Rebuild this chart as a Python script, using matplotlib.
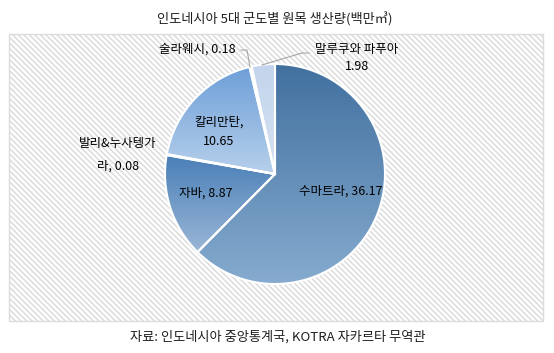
import matplotlib
matplotlib.use('Agg')
import numpy as np
import matplotlib.pyplot as plt
from matplotlib.colors import LinearSegmentedColormap
from matplotlib.patches import Rectangle

plt.rcParams['font.family'] = ['Noto Sans CJK KR', 'DejaVu Sans']
plt.rcParams['hatch.linewidth'] = 1.1

# 데이터
regions = ['수마트라', '자바', '발리&누사텡가라', '칼리만탄', '술라웨시', '말루쿠와 파푸아']
values = [36.17, 8.87, 0.08, 10.65, 0.18, 1.98]
top_colors = ['#41709f', '#4a7fb8', '#5f90c8', '#6e9fd8', '#d3e0f0', '#c3d5ec']
bottom_colors = ['#86abcf', '#9ab7d6', '#a5c2e4', '#b7d0eb', '#e3ecf6', '#d6e2f1']

W, H = 554, 353


def py(y):
    # 위에서부터 잰 픽셀 -> 데이터 좌표
    return H - y


fig = plt.figure(figsize=(W / 100, H / 100), dpi=100)
ax = fig.add_axes([0, 0, 1, 1])

bg = Rectangle((8.5, py(320.5)), 534, 287, facecolor='white',
               edgecolor='#dcdcdc', hatch='\\' * 6, lw=1, zorder=0)
ax.add_patch(bg)

wedges, _ = ax.pie(values, startangle=90, counterclock=False,
                   center=(275, py(174)), radius=110,
                   wedgeprops=dict(edgecolor='white', linewidth=1.5))

grad = np.linspace(0, 1, 256).reshape(-1, 1)
for w, ct, cb in zip(wedges, top_colors, bottom_colors):
    v = w.get_path().vertices
    cmap = LinearSegmentedColormap.from_list('g', [cb, ct])
    im = ax.imshow(grad, extent=(v[:, 0].min(), v[:, 0].max(), v[:, 1].min(), v[:, 1].max()),
                   origin='lower', cmap=cmap, aspect='auto', zorder=1)
    im.set_clip_path(w)
    w.set_facecolor('none')
    w.set_zorder(2)

fs = 9
ax.text(341, py(191), f'{regions[0]}, {values[0]}', fontsize=fs, ha='center', va='center', zorder=3)
ax.text(206, py(193), f'{regions[1]}, {values[1]}', fontsize=fs, ha='center', va='center', zorder=3)
ax.text(118, py(155), f'발리&누사텡가\n라, {values[2]}', fontsize=fs, ha='center', va='center',
        linespacing=1.9, zorder=3)
ax.text(219, py(132), f'{regions[3]},\n{values[3]}', fontsize=fs, ha='center', va='center',
        linespacing=1.6, zorder=3)
ax.text(197, py(49), f'{regions[4]}, {values[4]}', fontsize=fs, ha='center', va='center', zorder=3)
ax.text(357, py(58), f'{regions[5]}\n{values[5]}', fontsize=fs, ha='center', va='center',
        linespacing=1.5, zorder=3)

# 지시선
ax.plot([241, 247, 250], [py(50), py(50), py(67)], color='#a6a6a6', lw=0.8, zorder=3)
ax.plot([309, 302, 262], [py(53), py(53), py(65)], color='#a6a6a6', lw=0.8, zorder=3)

ax.text(275, py(19.5), '인도네시아 5대 군도별 원목 생산량(백만㎥)', fontsize=9.5,
        ha='center', va='center', color='#1f1f1f')
ax.text(278, py(337), '자료: 인도네시아 중앙통계국, KOTRA 자카르타 무역관', fontsize=9.5,
        ha='center', va='center', color='#1f1f1f')

ax.set_xlim(0, W)
ax.set_ylim(0, H)
ax.axis('off')

fig.savefig('out.png', dpi=100)
